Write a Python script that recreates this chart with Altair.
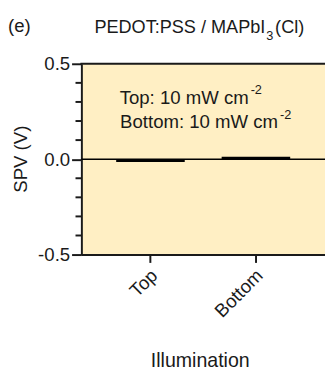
import altair as alt
import pandas as pd

# data
conditions = ["Top", "Bottom"]
spv_values = [-0.015, 0.013]
minor_ticks = [-0.4, -0.3, -0.2, -0.1, 0.1, 0.2, 0.3, 0.4]
major_ticks = [-0.5, 0.0, 0.5]

FONT = "Liberation Sans"
INK = "#1a1a1a"
W, H = 249, 195

bars_df = pd.DataFrame({"cond": conditions, "spv": spv_values})

yscale = alt.Scale(domain=[-0.5, 0.5], nice=False, zero=False)

bars = alt.Chart(bars_df).mark_bar(color="#000000").encode(
    x=alt.X("cond:N", sort=conditions,
            scale=alt.Scale(paddingInner=0.35, paddingOuter=0.33),
            axis=alt.Axis(title="Illumination", labelAngle=-45, labelAlign="right",
                          labelBaseline="middle", labelPadding=10, labelOffset=4,
                          labelFontSize=19, labelFont=FONT, labelColor=INK,
                          tickSize=8, tickWidth=2, tickColor=INK,
                          domainWidth=2, domainColor=INK,
                          titleFont=FONT, titleFontSize=20, titleFontWeight="normal",
                          titleColor=INK, titleX=121, titleY=108, titleBaseline="middle")),
    y=alt.Y("spv:Q", scale=yscale,
            axis=alt.Axis(title="SPV (V)", values=major_ticks,
                          labelExpr="datum.value < 0 ? '-0.5' : (datum.value > 0 ? '0.5' : '0.0')",
                          labelFontSize=19, labelFont=FONT, labelColor=INK, labelPadding=2,
                          tickSize=10, tickWidth=2, tickColor=INK,
                          domainWidth=2, domainColor=INK, grid=False,
                          titleFont=FONT, titleFontSize=19, titleFontWeight="normal",
                          titleColor=INK, titleX=-62, titleY=97, titleAngle=-90,
                          titleBaseline="middle", titleAlign="center")),
)

zero_df = pd.DataFrame({"y": [0.0]})
zero_rule = alt.Chart(zero_df).mark_rule(color="#000000", strokeWidth=1.5).encode(
    y=alt.Y("y:Q", scale=yscale), x=alt.value(0), x2=alt.value(W))

top_df = pd.DataFrame({"y": [0.5]})
top_rule = alt.Chart(top_df).mark_rule(color=INK, strokeWidth=2).encode(
    y=alt.Y("y:Q", scale=yscale), x=alt.value(-1), x2=alt.value(W + 2))

minor_df = pd.DataFrame({"y": minor_ticks})
minor = alt.Chart(minor_df).mark_rule(color=INK, strokeWidth=2).encode(
    y=alt.Y("y:Q", scale=yscale), x=alt.value(-6), x2=alt.value(0))


def txt(s, x, y, size, align="left"):
    return alt.Chart(pd.DataFrame({"t": [s]})).mark_text(
        font=FONT, fontSize=size, color=INK, align=align, baseline="alphabetic"
    ).encode(text="t:N", x=alt.value(x), y=alt.value(y))


texts = [
    txt("(e)", -75, -33, 19),
    txt("PEDOT:PSS / MAPbI", 188, -31, 18.5, "right"),
    txt("3", 189, -24, 13),
    txt("(Cl)", 198, -31, 18.5),
    txt("Top: 10 mW cm", 171, 41, 19, "right"),
    txt("-2", 173, 31, 13),
    txt("Bottom: 10 mW cm", 201, 66, 19, "right"),
    txt("-2", 203, 56, 13),
]

chart = alt.layer(bars, zero_rule, top_rule, minor, *texts).properties(
    width=W, height=H,
    autosize=alt.AutoSizeParams(type="none"),
    padding={"left": 75, "top": 53, "right": 0, "bottom": 116},
).configure(background="white").configure_view(fill="#FFEFC4", stroke=None)

chart.save("out.html", embed_options={"renderer": "svg", "actions": False})
